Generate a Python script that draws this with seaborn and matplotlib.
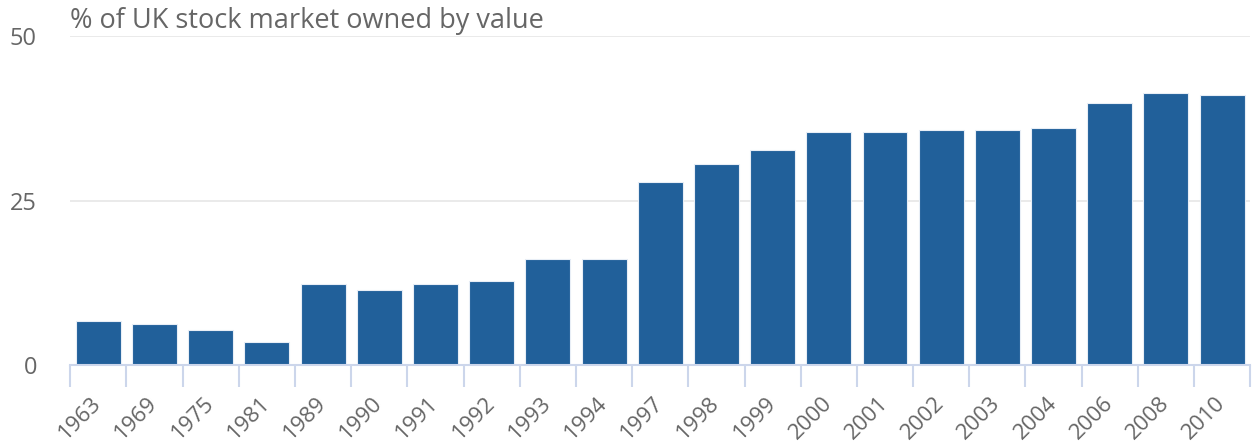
import numpy as np
import pandas as pd
import matplotlib
matplotlib.use("Agg")
import matplotlib.pyplot as plt
import seaborn as sns

years = ["1963", "1969", "1975", "1981", "1989", "1990", "1991", "1992",
         "1993", "1994", "1997", "1998", "1999", "2000", "2001", "2002",
         "2003", "2004", "2006", "2008", "2010"]
share = [6.7, 6.3, 5.3, 3.5, 12.4, 11.4, 12.4, 12.8,
         16.2, 16.2, 27.9, 30.6, 32.7, 35.5, 35.5, 35.8,
         35.8, 36.1, 39.9, 41.3, 41.0]
y_ticks = [0, 25, 50]

df = pd.DataFrame({"year": years, "share": share})

sns.set_style("white")
plt.rcParams["font.family"] = ["Open Sans", "DejaVu Sans"]

fig = plt.figure(figsize=(12.54, 4.41), dpi=100)
ax = fig.add_axes([0.056, 0.172, 0.941, 0.746])

sns.barplot(
    data=df,
    x="year",
    y="share",
    color="#21609a",
    saturation=1,
    width=0.8,
    edgecolor="#e8eef6",
    linewidth=0.8,
    ax=ax,
    zorder=3
)

ax.set_xlim(-0.5, len(years) - 0.5)
ax.set_ylim(0, 50)
ax.set_yticks(y_ticks)
ax.yaxis.grid(True, color="#e6e6e6", linewidth=1.2, zorder=0)

for side in ["top", "right", "left"]:
    ax.spines[side].set_visible(False)
ax.spines["bottom"].set_color("#ccd6eb")
ax.spines["bottom"].set_linewidth(1.5)
ax.spines["bottom"].set_zorder(4)

ax.set_xlabel("")
ax.set_ylabel("")

ax.tick_params(axis="y", left=False, length=0, labelsize=17,
               labelcolor="#666666", pad=24)
plt.setp(ax.get_yticklabels(), va="center_baseline")

ax.set_xticks(np.arange(len(years) + 1) - 0.5, minor=True)
ax.tick_params(axis="x", which="minor", bottom=True, length=16, width=1.5,
               color="#ccd6eb")
ax.tick_params(axis="x", which="major", length=0, labelsize=16,
               labelcolor="#666666", pad=25)
plt.setp(ax.get_xticklabels(), rotation=45, ha="right", va="center",
         rotation_mode="anchor")

ax.text(0.0, 1.024, "% of UK stock market owned by value",
        transform=ax.transAxes, fontsize=19.5, color="#666666",
        ha="left", va="baseline")

fig.savefig("out.png", dpi=100)
plt.close()
